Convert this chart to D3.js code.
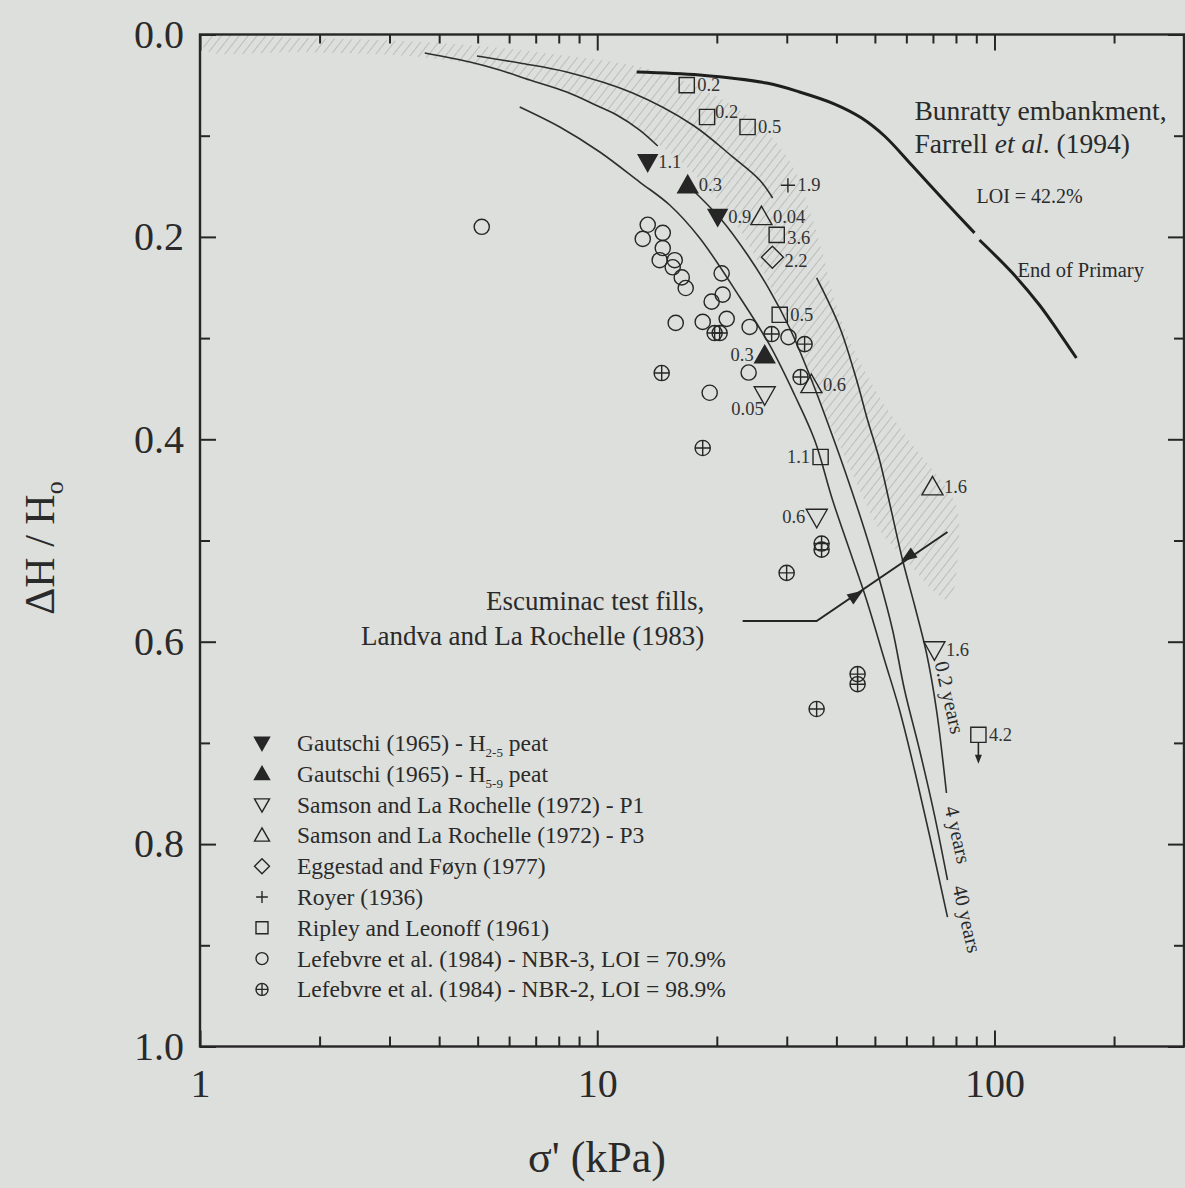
<!doctype html>
<html lang="en">
<head>
<meta charset="utf-8">
<title>Peat compression vs effective stress</title>
<script src="https://cdn.jsdelivr.net/npm/d3@7"></script>
<style>
  body { margin: 0; background: #dcdfdc; }
  svg { display: block; font-family: "Liberation Serif", "Times New Roman", serif; }
</style>
</head>
<body>
<script>
// ---- axis ticks ----
var xTicksMajor = [1, 10, 100];
var xTicksMinor = [2, 3, 4, 5, 6, 7, 8, 9, 20, 30, 40, 50, 60, 70, 80, 90, 200];
var yTicksMajor = [0, 0.2, 0.4, 0.6, 0.8, 1.0];
var yTicksMinor = [0.1, 0.3, 0.5, 0.7, 0.9];

// ---- point series: [sigma' (kPa), dH/Ho, label] ----
var gautschiH25 = [[13.4, 0.126, "1.1"], [20.1, 0.180, "0.9"]];
var gautschiH59 = [[16.9, 0.149, "0.3"], [26.4, 0.317, "0.3"]];
var samsonP1 = [[26.4, 0.356, "0.05"], [35.7, 0.477, "0.6"], [70.6, 0.608, "1.6"]];
var samsonP3 = [[25.9, 0.180, "0.04"], [34.6, 0.346, "0.6"], [69.8, 0.447, "1.6"]];
var eggestad = [[27.6, 0.220, "2.2"]];
var royer = [[30.2, 0.149, "1.9"]];
var ripley = [[16.8, 0.050, "0.2"], [18.9, 0.0815, "0.2"], [23.9, 0.0914, "0.5"], [28.3, 0.198, "3.6"],
              [28.8, 0.277, "0.5"], [36.5, 0.4175, "1.1"], [91.1, 0.692, "4.2"]];
var ripleyOpenEnded = [6];   // value is a lower bound (arrow down)
var nbr3 = [[5.12, 0.190], [13.4, 0.188], [13.02, 0.202], [14.62, 0.196], [14.62, 0.211], [14.36, 0.223],
            [15.67, 0.223], [15.49, 0.230], [16.32, 0.240], [16.7, 0.2505], [20.57, 0.236], [20.69, 0.257],
            [19.41, 0.264], [15.76, 0.285], [18.43, 0.284], [21.18, 0.281], [24.19, 0.289], [30.3, 0.299],
            [24.05, 0.334], [19.19, 0.354]];
var nbr2 = [[19.75, 0.295], [20.33, 0.295], [27.48, 0.296], [33.27, 0.306], [14.53, 0.3345], [32.5, 0.3385],
            [18.43, 0.4086], [36.71, 0.503], [36.71, 0.509], [29.98, 0.532], [45.23, 0.632], [45.23, 0.642],
            [35.67, 0.6665]];

// ---- label sides for the numbers next to points ----
var labelSide = {
    gautschiH25: ["r", "r"],
    gautschiH59: ["r", "l"],
    samsonP1: ["bl", "l", "r"],
    samsonP3: ["r", "r", "r"],
    eggestad: ["rd"],
    royer: ["r"],
    ripley: ["r", "ru", "r", "rd", "r", "l", "r"]
};

// ---- consolidation curves (0.2, 4, 40 years), split where they break ----
var curve40yr = [[6.38, 0.0716], [8.05, 0.0914], [10.15, 0.1161], [12.79, 0.1458], [15.22, 0.1685], [18.11, 0.2011],
                 [22.83, 0.2594], [27.16, 0.3068], [31.4, 0.3562], [35.26, 0.4007], [39.12, 0.46], [43.17, 0.5094],
                 [47.64, 0.5588], [52.87, 0.6181], [57.68, 0.6675], [62.9, 0.7268], [68.6, 0.791], [76.16, 0.8721]];
var curve4yrTop = [[3.68, 0.0183], [4.78, 0.0272], [5.68, 0.0351], [6.77, 0.045], [8.38, 0.0568], [10.15, 0.0716],
                   [11.2, 0.0795], [12.79, 0.0944], [14.2, 0.1102]];
var curve4yr = [[17.09, 0.1507], [20.57, 0.1833], [23.91, 0.2179], [27.16, 0.2525], [30.5, 0.29], [34.24, 0.3365],
                [37.8, 0.3809], [41.95, 0.4303], [47.1, 0.4896], [51.37, 0.539], [55.4, 0.5884], [59.38, 0.6477],
                [64.77, 0.707], [70.63, 0.7713], [76.16, 0.8355]];
var curve02yrTop = [[4.98, 0.0212], [6.38, 0.0282], [8.38, 0.0371], [12.28, 0.0578], [17.39, 0.0894],
                    [21.93, 0.121], [25.63, 0.1438], [27.64, 0.1616]];
var curve02yr = [[35.67, 0.2406], [40.75, 0.289], [44.97, 0.3414], [47.92, 0.3809], [51.37, 0.4204],
                 [54.44, 0.4629], [58.7, 0.5193], [62.9, 0.5638], [67.43, 0.6112], [71.46, 0.6675], [75.71, 0.7495]];

// ---- Bunratty embankment (Farrell et al. 1994) ----
var bunratty = [[12.57, 0.037], [18.11, 0.040], [26.69, 0.048], [32.31, 0.0568], [39.58, 0.0687], [46.3, 0.0825],
                [52.87, 0.1003], [62.2, 0.130], [75.7, 0.1665], [89.06, 0.196]];
var bunrattyAfter = [[91.68, 0.2031], [111, 0.2357], [129.8, 0.2673], [145.7, 0.295], [160.8, 0.3197]];

// ---- Escuminac test fills range ----
var escuminac = [[23.23, 0.5795], [35.67, 0.5795], [76.16, 0.4916]];
var escuminacArrows = [[44.97, 0.5539, 1], [60.42, 0.5163, -1]];

// ---- hatched band (outline, upper edge then lower edge back) ----
var band = [[1.03, 0.0025], [1.785, 0.0035], [3.185, 0.0064], [5.06, 0.0114], [8.05, 0.0203], [11.39, 0.0282],
            [14.36, 0.037], [18.11, 0.0529], [22.83, 0.0746], [27.16, 0.0993], [31.4, 0.1339], [34.24, 0.1734],
            [36.71, 0.213], [39.6, 0.2624], [43.17, 0.302], [48.5, 0.3414], [56.0, 0.3809], [66.66, 0.4204],
            [74.83, 0.4452], [80.7, 0.4699], [80.7, 0.5193], [77.07, 0.5588],
            [70.63, 0.5509], [62.9, 0.5291], [57.68, 0.5128], [51.37, 0.4896], [45.76, 0.45], [40.75, 0.4057],
            [36.29, 0.3612], [32.31, 0.3138], [28.79, 0.2673], [25.63, 0.2278], [22.83, 0.1932], [19.75, 0.1606],
            [16.6, 0.1289], [13.56, 0.1023], [10.75, 0.0766], [8.05, 0.0548], [5.68, 0.0351], [3.58, 0.0222],
            [1.785, 0.0173], [1.03, 0.0153]];

// ---- legend ----
var legendNames = ["Gautschi (1965) - H", "Gautschi (1965) - H", "Samson and La Rochelle (1972) - P1",
                   "Samson and La Rochelle (1972) - P3", "Eggestad and Føyn (1977)", "Royer (1936)",
                   "Ripley and Leonoff (1961)", "Lefebvre et al. (1984) - NBR-3, LOI = 70.9%",
                   "Lefebvre et al. (1984) - NBR-2, LOI = 98.9%"];
var legendSubs = ["2-5", "5-9", "", "", "", "", "", "", ""];
var legendTails = [" peat", " peat", "", "", "", "", "", "", ""];

var W = 1185, H = 1188;
var ink = "#262626";

var x = d3.scaleLog().domain([1, 300]).range([200, 1184]);
var y = d3.scaleLinear().domain([0, 1]).range([34.5, 1046.5]);

var svg = d3.select("body").append("svg").attr("width", W).attr("height", H);

svg.append("rect").attr("width", W).attr("height", H).attr("fill", "#dcdfdc");

var defs = svg.append("defs");
var pat = defs.append("pattern")
    .attr("id", "hatch")
    .attr("patternUnits", "userSpaceOnUse")
    .attr("width", 7).attr("height", 7)
    .attr("patternTransform", "rotate(38)");
pat.append("line").attr("x1", 0).attr("y1", 0).attr("x2", 0).attr("y2", 7)
    .attr("stroke", "#a9aba9").attr("stroke-width", 1.3);

// hatched band
svg.append("path")
    .datum(band)
    .attr("d", d3.line().x(d => x(d[0])).y(d => y(d[1])).curve(d3.curveCatmullRomClosed.alpha(0.5)))
    .attr("fill", "url(#hatch)");

// curves
var smooth = d3.line().x(d => x(d[0])).y(d => y(d[1])).curve(d3.curveCatmullRom.alpha(0.5));
[curve40yr, curve4yrTop, curve4yr, curve02yrTop, curve02yr].forEach(function(c) {
    svg.append("path").datum(c).attr("d", smooth)
        .attr("fill", "none").attr("stroke", "#2e2e2e").attr("stroke-width", 1.6);
});
[bunratty, bunrattyAfter].forEach(function(c) {
    svg.append("path").datum(c).attr("d", smooth)
        .attr("fill", "none").attr("stroke", "#1e1e1e").attr("stroke-width", 3);
});

// Escuminac line and arrowheads
svg.append("path").datum(escuminac)
    .attr("d", d3.line().x(d => x(d[0])).y(d => y(d[1])))
    .attr("fill", "none").attr("stroke", ink).attr("stroke-width", 2);
var ang = Math.atan2(y(escuminac[2][1]) - y(escuminac[1][1]), x(escuminac[2][0]) - x(escuminac[1][0])) * 180 / Math.PI;
svg.selectAll(".arrowhead").data(escuminacArrows).enter().append("path")
    .attr("class", "arrowhead")
    .attr("d", "M8,0L-8,-6L-8,6Z")
    .attr("transform", d => "translate(" + x(d[0]) + "," + y(d[1]) + ") rotate(" + (d[2] > 0 ? ang : ang + 180) + ")")
    .attr("fill", ink);

// marker shapes
function symbolPath(type, s) {
    var h = s / 2, r, a, p;
    switch (type) {
        case "triUp": return "M0," + (-0.5 * s) + "L" + h + "," + (0.38 * s) + "L" + (-h) + "," + (0.38 * s) + "Z";
        case "triDown": return "M0," + (0.5 * s) + "L" + h + "," + (-0.38 * s) + "L" + (-h) + "," + (-0.38 * s) + "Z";
        case "square": a = 0.4 * s; return "M" + (-a) + "," + (-a) + "H" + a + "V" + a + "H" + (-a) + "Z";
        case "diamond": a = 0.5 * s; return "M0," + (-a) + "L" + a + ",0L0," + a + "L" + (-a) + ",0Z";
        case "plus": p = 0.42 * s; return "M" + (-p) + ",0H" + p + "M0," + (-p) + "V" + p;
        case "circle": r = 0.4 * s;
            return "M" + r + ",0A" + r + "," + r + " 0 1,1 " + (-r) + ",0A" + r + "," + r + " 0 1,1 " + r + ",0Z";
        case "circlePlus": r = 0.4 * s;
            return "M" + r + ",0A" + r + "," + r + " 0 1,1 " + (-r) + ",0A" + r + "," + r + " 0 1,1 " + r + ",0Z" +
                   "M" + (-r) + ",0H" + r + "M0," + (-r) + "V" + r;
    }
}

var series = [
    {key: "gautschiH25", data: gautschiH25, type: "triDown", filled: true, size: 19},
    {key: "gautschiH59", data: gautschiH59, type: "triUp", filled: true, size: 20},
    {key: "samsonP1", data: samsonP1, type: "triDown", filled: false, size: 21},
    {key: "samsonP3", data: samsonP3, type: "triUp", filled: false, size: 21},
    {key: "eggestad", data: eggestad, type: "diamond", filled: false, size: 22},
    {key: "royer", data: royer, type: "plus", filled: false, size: 17},
    {key: "ripley", data: ripley, type: "square", filled: false, size: 19},
    {key: "nbr3", data: nbr3, type: "circle", filled: false, size: 19},
    {key: "nbr2", data: nbr2, type: "circlePlus", filled: false, size: 19}
];

var plot = svg.append("g");
series.forEach(function(s) {
    var g = plot.append("g");
    g.selectAll("path").data(s.data).enter().append("path")
        .attr("d", symbolPath(s.type, s.size))
        .attr("transform", d => "translate(" + x(d[0]) + "," + y(d[1]) + ")")
        .attr("fill", s.filled ? ink : "none")
        .attr("stroke", ink).attr("stroke-width", 1.4);
    var sides = labelSide[s.key];
    if (!sides) return;
    g.selectAll("text").data(s.data).enter().append("text")
        .text(d => d[2])
        .attr("x", function(d, i) {
            var side = sides[i], px = x(d[0]);
            if (side === "l") return px - s.size * 0.5 - 1;
            if (side === "bl") return px - 1;
            if (side === "ru") return px + s.size * 0.42;
            return px + s.size * 0.5 + 1;
        })
        .attr("y", function(d, i) {
            var side = sides[i], py = y(d[1]);
            if (side === "bl") return py + 20;
            if (side === "ru") return py + 1;
            if (side === "rd") return py + 9.5;
            return py + 6;
        })
        .attr("text-anchor", (d, i) => (sides[i] === "l" || sides[i] === "bl") ? "end" : "start")
        .attr("font-size", 18.5)
        .attr("fill", "#333");
});

// lower-bound arrow under the Ripley point
ripleyOpenEnded.forEach(function(i) {
    var px = x(ripley[i][0]), py = y(ripley[i][1]);
    plot.append("line").attr("x1", px).attr("x2", px).attr("y1", py + 8).attr("y2", py + 22)
        .attr("stroke", ink).attr("stroke-width", 1.6);
    plot.append("path").attr("d", "M" + (px - 3.5) + "," + (py + 20) + "L" + (px + 3.5) + "," + (py + 20) + "L" + px + "," + (py + 29) + "Z")
        .attr("fill", ink);
});

// axes
function styleAxis(g) {
    g.select(".domain").remove();
    g.selectAll("line").attr("stroke", ink).attr("stroke-width", 2);
    g.selectAll("text").attr("fill", "#2a2a2a").attr("font-family", "Liberation Serif, Times New Roman, serif")
        .attr("font-size", 40);
}
svg.append("g").attr("transform", "translate(0," + y(1) + ")")
    .call(d3.axisBottom(x).tickValues(xTicksMinor).tickSize(-10).tickFormat("")).call(styleAxis);
svg.append("g").attr("transform", "translate(0," + y(1) + ")")
    .call(d3.axisBottom(x).tickValues(xTicksMajor).tickSize(-16).tickPadding(22).tickFormat(d3.format("d"))).call(styleAxis);
svg.append("g").attr("transform", "translate(0," + y(0) + ")")
    .call(d3.axisTop(x).tickValues(xTicksMinor).tickSize(-9).tickFormat("")).call(styleAxis);
svg.append("g").attr("transform", "translate(0," + y(0) + ")")
    .call(d3.axisTop(x).tickValues(xTicksMajor).tickSize(-16).tickFormat("")).call(styleAxis);
svg.append("g").attr("transform", "translate(" + x(1) + ",0)")
    .call(d3.axisLeft(y).tickValues(yTicksMinor).tickSize(-10).tickFormat("")).call(styleAxis);
svg.append("g").attr("transform", "translate(" + x(1) + ",0)")
    .call(d3.axisLeft(y).tickValues(yTicksMajor).tickSize(-16).tickPadding(16).tickFormat(d3.format(".1f"))).call(styleAxis);
svg.append("g").attr("transform", "translate(" + x(300) + ",0)")
    .call(d3.axisRight(y).tickValues(yTicksMinor).tickSize(-10).tickFormat("")).call(styleAxis);
svg.append("g").attr("transform", "translate(" + x(300) + ",0)")
    .call(d3.axisRight(y).tickValues(yTicksMajor).tickSize(-16).tickFormat("")).call(styleAxis);

svg.append("rect")
    .attr("x", x(1)).attr("y", y(0))
    .attr("width", x(300) - x(1)).attr("height", y(1) - y(0))
    .attr("fill", "none").attr("stroke", ink).attr("stroke-width", 2.4);

// axis titles
svg.append("text").attr("x", 597).attr("y", 1172).attr("text-anchor", "middle")
    .attr("font-size", 44).attr("fill", "#2a2a2a").text("σ' (kPa)");
var yt = svg.append("text").attr("transform", "translate(54,548) rotate(-90)")
    .attr("text-anchor", "middle").attr("font-size", 42).attr("fill", "#2a2a2a");
yt.append("tspan").text("ΔH / H");
yt.append("tspan").attr("dy", 9).attr("font-size", 26).text("o");

// annotations
function note(sx, h, parts, size, anchor) {
    var t = svg.append("text").attr("x", x(sx)).attr("y", y(h)).attr("font-size", size)
        .attr("fill", "#2a2a2a").attr("text-anchor", anchor || "start");
    parts.forEach(function(p) {
        t.append("tspan").text(p[0]).attr("font-style", p[1] ? "italic" : null);
    });
}
note(62.9, 0.0845, [["Bunratty embankment,"]], 27.5);
note(62.9, 0.117, [["Farrell "], ["et al", true], [". (1994)"]], 27.5);
note(90.1, 0.1665, [["LOI = 42.2%"]], 20);
note(114.3, 0.2396, [["End of Primary"]], 20.5);
note(18.6, 0.5687, [["Escuminac test fills,"]], 27, "end");
note(18.6, 0.6033, [["Landva and La Rochelle (1983)"]], 27, "end");

// time labels along the curves
var timeLabels = [[70.6, 0.621, "0.2 years"], [74.8, 0.764, "4 years"], [78.4, 0.8424, "40 years"]];
svg.selectAll(".tlab").data(timeLabels).enter().append("text")
    .attr("class", "tlab")
    .attr("transform", d => "translate(" + x(d[0]) + "," + y(d[1]) + ") rotate(77)")
    .attr("font-size", 20.5).attr("fill", "#2a2a2a")
    .text(d => d[2]);

// legend
var leg = svg.append("g").attr("transform", "translate(262,743)");
series.forEach(function(s, i) {
    var row = leg.append("g").attr("transform", "translate(0," + (i * 30.8) + ")");
    row.append("path").attr("d", symbolPath(s.type, s.type === "plus" ? 14 : 15))
        .attr("fill", s.filled ? ink : "none").attr("stroke", ink).attr("stroke-width", 1.4);
    var t = row.append("text").attr("x", 35).attr("y", 8).attr("font-size", 23.5).attr("fill", "#2a2a2a");
    t.append("tspan").text(legendNames[i]);
    if (legendSubs[i]) {
        t.append("tspan").attr("dy", 6).attr("font-size", 13).text(legendSubs[i]);
        t.append("tspan").attr("dy", -6).text(legendTails[i]);
    }
});
</script>
</body>
</html>
